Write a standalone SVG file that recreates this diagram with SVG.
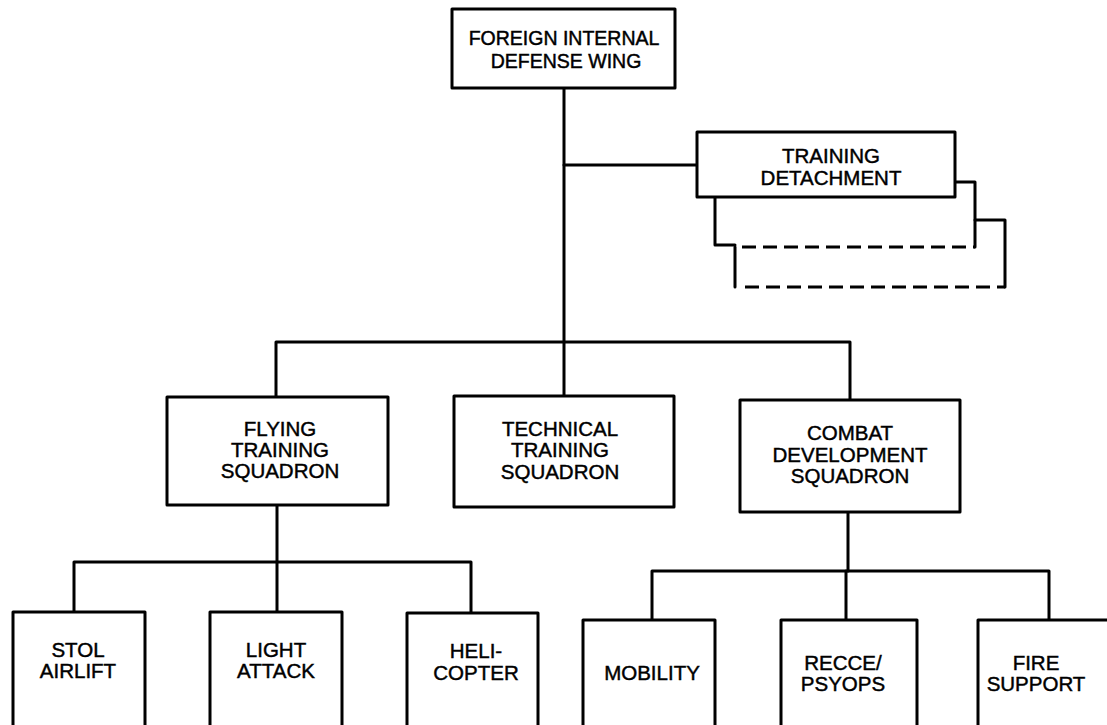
<svg xmlns="http://www.w3.org/2000/svg" width="1107" height="725" viewBox="0 0 1107 725">
<style>
.box{fill:#fff;stroke:#000;stroke-width:3;stroke-linejoin:round}
.ln{fill:none;stroke:#000;stroke-width:3;stroke-linejoin:round;stroke-linecap:round}
.dash{fill:none;stroke:#000;stroke-width:3;stroke-dasharray:14 7}
text{font-family:"Liberation Sans",Arial,sans-serif;font-size:20.5px;text-anchor:middle;fill:#000;stroke:#000;stroke-width:0.45}
.sm{font-size:19.5px}
</style>
<rect width="1107" height="725" fill="#fff"/>
<g id="connectors">
<path class="ln" d="M564,88 V396"/>
<path class="ln" d="M564,165 H697"/>
<path class="ln" d="M276,397 V342 H850 V400"/>
<path class="ln" d="M277,505 V562"/>
<path class="ln" d="M74,612 V562 H471 V613"/>
<path class="ln" d="M277,562 V612"/>
<path class="ln" d="M848,512 V571"/>
<path class="ln" d="M652,620 V571 H1049 V620"/>
<path class="ln" d="M846,571 V620"/>
</g>
<g id="wing">
<rect class="box" x="452" y="9" width="223" height="79"/>
<text class="sm" x="564" y="45">FOREIGN INTERNAL</text>
<text class="sm" x="566" y="68">DEFENSE WING</text>
</g>
<g id="detachment-copies">
<path class="ln" d="M955,182 H975 V247"/>
<path class="ln" d="M715,197 V245 H735"/>
<path class="dash" d="M742,247 H975"/>
<path class="ln" d="M975,220 H1005 V287"/>
<path class="ln" d="M735,247 V287"/>
<path class="dash" d="M745,287 H1005"/>
</g>
<g id="detachment">
<rect class="box" x="697" y="132" width="258" height="65"/>
<text x="831" y="163">TRAINING</text>
<text x="831" y="185">DETACHMENT</text>
</g>
<g id="flying">
<rect class="box" x="167" y="397" width="221" height="108"/>
<text x="280" y="436">FLYING</text>
<text x="280" y="457">TRAINING</text>
<text x="280" y="478">SQUADRON</text>
</g>
<g id="technical">
<rect class="box" x="454" y="396" width="220" height="111"/>
<text x="560" y="436">TECHNICAL</text>
<text x="560" y="457">TRAINING</text>
<text x="560" y="479">SQUADRON</text>
</g>
<g id="combat">
<rect class="box" x="740" y="400" width="220" height="112"/>
<text x="850" y="440">COMBAT</text>
<text x="850" y="462">DEVELOPMENT</text>
<text x="850" y="483">SQUADRON</text>
</g>
<g id="stol">
<rect class="box" x="13" y="612" width="132" height="130"/>
<text x="78" y="657">STOL</text>
<text x="78" y="678">AIRLIFT</text>
</g>
<g id="light">
<rect class="box" x="210" y="612" width="132" height="130"/>
<text x="276" y="657">LIGHT</text>
<text x="276" y="678">ATTACK</text>
</g>
<g id="heli">
<rect class="box" x="407" y="613" width="131" height="130"/>
<text x="476" y="658">HELI-</text>
<text x="476" y="680">COPTER</text>
</g>
<g id="mobility">
<rect class="box" x="583" y="620" width="132" height="130"/>
<text x="652" y="680">MOBILITY</text>
</g>
<g id="recce">
<rect class="box" x="781" y="620" width="136" height="130"/>
<text x="843" y="670">RECCE/</text>
<text x="843" y="691">PSYOPS</text>
</g>
<g id="fire">
<rect class="box" x="978" y="620" width="140" height="130"/>
<text x="1036" y="670">FIRE</text>
<text x="1036" y="691">SUPPORT</text>
</g>
</svg>
